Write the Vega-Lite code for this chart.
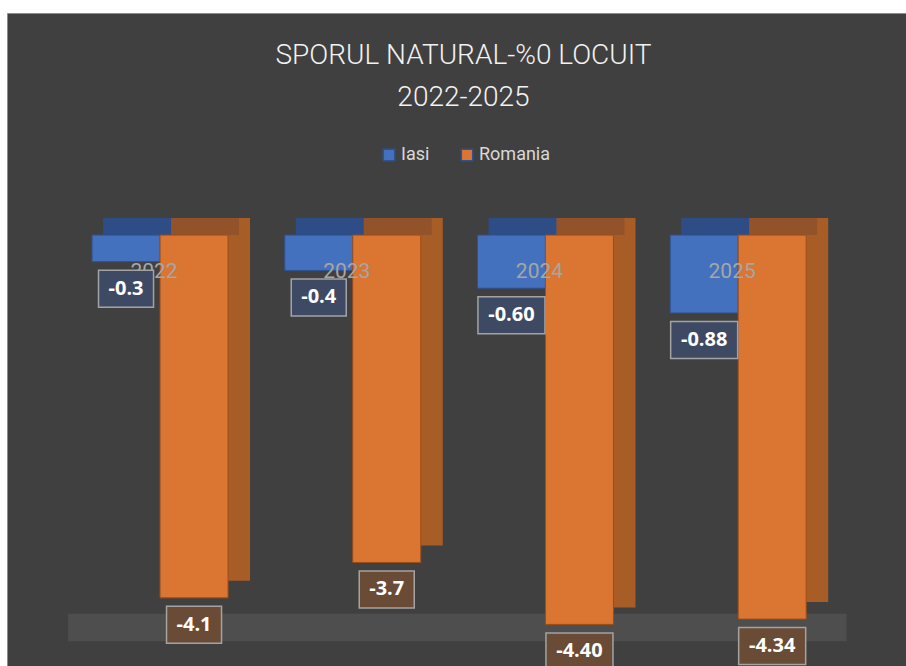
{
  "$schema": "https://vega.github.io/schema/vega-lite/v6.json",
  "width": 899,
  "height": 653,
  "autosize": {"type": "none"},
  "padding": {"left": 7, "top": 13, "right": 0, "bottom": 0},
  "background": "#ffffff",
  "config": {
    "view": {"fill": "#404040", "stroke": "#8c8c8c", "strokeWidth": 1},
    "font": "Roboto",
    "legend": {
      "orient": "none", "legendX": 373, "legendY": 133, "direction": "horizontal",
      "labelColor": "#d9d9d9", "labelFontSize": 18, "labelFont": "Roboto",
      "symbolType": "square", "symbolSize": 130, "columnPadding": 28, "labelOffset": 3, "symbolStrokeWidth": 1.5
    }
  },
  "title": {
    "text": ["SPORUL NATURAL-%0 LOCUIT", "2022-2025"],
    "color": "#f2f2f2", "fontSize": 28, "fontWeight": 300, "font": "Roboto",
    "anchor": "middle", "frame": "group", "baseline": "top", "offset": -24, "lineHeight": 42, "dx": 7, "dy": 75
  },
  "resolve": {"scale": {"x": "independent"}},
  "layer": [
    {
      "data": {"values": [{"x1": 0.068, "x2": 0.934, "y1": -4.28, "y2": -4.59}]},
      "mark": {"type": "rect", "color": "#4e4e4e"},
      "encoding": {
        "x": {"field": "x1", "type": "quantitative", "scale": {"domain": [0, 1]}, "axis": null},
        "x2": {"field": "x2"},
        "y": {"field": "y1", "type": "quantitative", "scale": {"domain": [-4.87, 2.51], "nice": false, "zero": false}, "axis": null},
        "y2": {"field": "y2"}
      }
    },
    {
      "data": {"values": [
        {"year": "2022", "series": "Iasi", "value": -0.3, "label": "-0.3"},
        {"year": "2023", "series": "Iasi", "value": -0.4, "label": "-0.4"},
        {"year": "2024", "series": "Iasi", "value": -0.60, "label": "-0.60"},
        {"year": "2025", "series": "Iasi", "value": -0.88, "label": "-0.88"},
        {"year": "2022", "series": "Romania", "value": -4.1, "label": "-4.1"},
        {"year": "2023", "series": "Romania", "value": -3.7, "label": "-3.7"},
        {"year": "2024", "series": "Romania", "value": -4.40, "label": "-4.40"},
        {"year": "2025", "series": "Romania", "value": -4.34, "label": "-4.34"}
      ]},
      "encoding": {
        "x": {"field": "year", "type": "nominal", "axis": null, "scale": {"paddingInner": 0.294, "paddingOuter": 0.4795, "align": 0.46}},
        "y": {"field": "value", "type": "quantitative", "axis": null, "scale": {"domain": [-4.87, 2.51], "nice": false, "zero": false}}
      },
      "layer": [
        {
          "transform": [{"filter": "datum.series === 'Iasi'"}],
          "mark": {"type": "bar", "color": "#35589a", "width": 68, "xOffset": -12, "yOffset": -17}
        },
        {
          "transform": [{"filter": "datum.series === 'Iasi'"}],
          "mark": {"type": "tick", "color": "#2e4d86", "size": 68, "thickness": 17, "xOffset": -23, "yOffset": -8.5, "opacity": 1},
          "encoding": {"y": {"datum": 0}}
        },
        {
          "transform": [{"filter": "datum.series === 'Iasi'"}],
          "mark": {"type": "bar", "width": 68, "xOffset": -34, "stroke": "#2f528f", "strokeWidth": 1},
          "encoding": {
            "color": {"field": "series", "type": "nominal", "title": null, "scale": {"domain": ["Iasi", "Romania"], "range": ["#4371bd", "#da7532"]}}
          }
        },
        {
          "transform": [{"filter": "datum.series === 'Romania'"}],
          "mark": {"type": "bar", "color": "#a85d27", "width": 68, "xOffset": 56, "yOffset": -17}
        },
        {
          "transform": [{"filter": "datum.series === 'Romania'"}],
          "mark": {"type": "tick", "color": "#93532a", "size": 68, "thickness": 17, "xOffset": 45, "yOffset": -8.5, "opacity": 1},
          "encoding": {"y": {"datum": 0}}
        },
        {
          "transform": [{"filter": "datum.series === 'Romania'"}],
          "mark": {"type": "bar", "width": 68, "xOffset": 34, "stroke": "#9c4e18", "strokeWidth": 1},
          "encoding": {
            "color": {"field": "series", "type": "nominal", "title": null}
          }
        },
        {
          "transform": [{"filter": "datum.series === 'Iasi'"}],
          "mark": {"type": "text", "color": "#a6a6a6", "fontSize": 21, "font": "Roboto", "dx": -6, "baseline": "middle"},
          "encoding": {"y": {"datum": -0.418}, "text": {"field": "year"}}
        },
        {
          "transform": [{"filter": "datum.series === 'Iasi'"}, {"calculate": "12 * length(datum.label) + 7", "as": "boxW"}],
          "mark": {"type": "tick", "thickness": 37, "xOffset": -34, "yOffset": 27, "opacity": 1, "color": "#3e4a64", "stroke": "#a3a3a3", "strokeWidth": 1.5},
          "encoding": {"size": {"field": "boxW", "type": "quantitative", "scale": null}}
        },
        {
          "transform": [{"filter": "datum.series === 'Romania'"}, {"calculate": "12 * length(datum.label) + 7", "as": "boxW"}],
          "mark": {"type": "tick", "thickness": 37, "xOffset": 34, "yOffset": 27, "opacity": 1, "color": "#6a4b36", "stroke": "#a3a3a3", "strokeWidth": 1.5},
          "encoding": {"size": {"field": "boxW", "type": "quantitative", "scale": null}}
        },
        {
          "transform": [{"filter": "datum.series === 'Iasi'"}],
          "mark": {"type": "text", "color": "#ffffff", "fontSize": 20, "fontWeight": "bold", "font": "Open Sans", "xOffset": -34, "yOffset": 27, "baseline": "middle"},
          "encoding": {"text": {"field": "label"}}
        },
        {
          "transform": [{"filter": "datum.series === 'Romania'"}],
          "mark": {"type": "text", "color": "#ffffff", "fontSize": 20, "fontWeight": "bold", "font": "Open Sans", "xOffset": 34, "yOffset": 27, "baseline": "middle"},
          "encoding": {"text": {"field": "label"}}
        }
      ]
    }
  ]
}
